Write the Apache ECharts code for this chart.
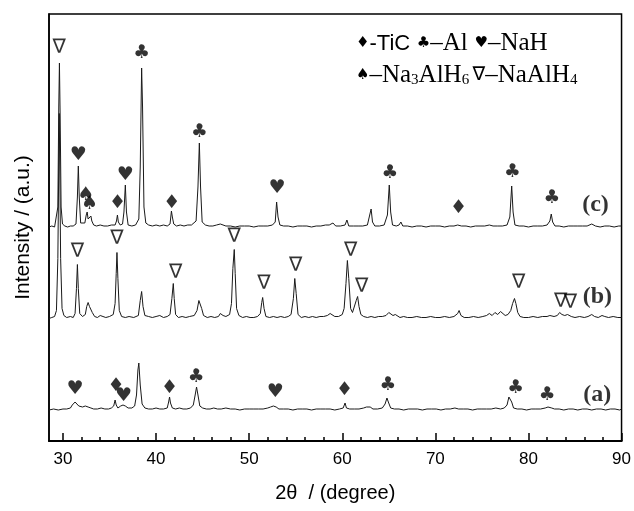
<!DOCTYPE html>
<html>
<head>
<meta charset="utf-8">
<script src="https://cdn.jsdelivr.net/npm/echarts@6/dist/echarts.min.js"></script>
<style>
html,body{margin:0;padding:0;background:#fff}
#chart{width:634px;height:511px}
</style>
</head>
<body>
<div id="chart"></div>
<script>
// XRD patterns: [2theta, intensity above the pattern's own baseline]
var traceA = [[28.5,0],[29.0,1],[29.5,0],[30.0,1],[30.4,1],[30.8,2],[31.0,5],[31.3,8],[31.5,7],[31.7,4],[31.9,5],[32.1,3],[32.4,4],[32.7,3],[33.0,2],[33.3,1],[33.7,1],[34.1,2],[34.5,1],[34.9,1],[35.2,2],[35.45,4],[35.6,10],[35.72,5],[35.9,2],[36.2,4],[36.45,5],[36.7,4],[37.0,2],[37.4,2],[37.7,4],[37.9,15],[38.05,40],[38.15,47],[38.3,25],[38.5,6],[38.8,2],[39.2,1],[39.6,1],[40.0,2],[40.4,1],[40.8,1],[41.2,2],[41.35,8],[41.45,13],[41.55,7],[41.75,2],[42.1,1],[42.5,2],[42.9,1],[43.3,1],[43.7,2],[44.0,5],[44.2,15],[44.35,23],[44.5,15],[44.7,4],[45.0,2],[45.4,1],[45.8,1],[46.2,2],[46.6,1],[47.0,1],[47.5,2],[48.0,1],[48.5,1],[49.0,0],[49.5,1],[50.0,1],[50.5,1],[51.0,1],[51.5,1],[52.0,2],[52.3,3],[52.6,4],[52.9,3],[53.2,1],[53.7,1],[54.2,1],[54.7,0],[55.2,1],[55.7,1],[56.2,1],[56.7,0],[57.2,1],[57.7,1],[58.2,1],[58.7,1],[59.2,0],[59.7,1],[60.1,2],[60.3,7],[60.45,2],[60.8,1],[61.3,1],[61.8,1],[62.3,2],[62.6,3],[63.0,3],[63.3,1],[63.8,1],[64.3,2],[64.6,6],[64.8,12],[64.95,8],[65.2,2],[65.6,1],[66.1,1],[66.6,0],[67.1,1],[67.6,1],[68.1,1],[68.6,0],[69.1,1],[69.6,1],[70.1,1],[70.6,0],[71.1,1],[71.6,1],[72.1,2],[72.3,3],[72.5,1],[73.0,1],[73.5,1],[74.0,0],[74.5,1],[75.0,1],[75.5,1],[76.0,1],[76.5,2],[77.0,1],[77.4,2],[77.7,5],[77.9,13],[78.05,15],[78.2,8],[78.4,2],[78.8,1],[79.3,1],[79.8,0],[80.3,1],[80.8,1],[81.3,1],[81.8,2],[82.1,3],[82.3,4],[82.5,2],[82.8,1],[83.3,1],[83.8,0],[84.3,1],[84.8,1],[85.3,0],[85.8,1],[86.3,1],[86.8,0],[87.3,1],[87.8,1],[88.3,0],[88.8,1],[89.3,1],[89.8,0],[90,1]];

var traceB = [[28.5,0],[28.8,1],[29.1,2],[29.3,8],[29.45,60],[29.6,205],[29.75,60],[29.9,10],[30.1,3],[30.4,1],[30.8,2],[31.1,1],[31.3,5],[31.45,30],[31.55,54],[31.65,30],[31.8,5],[32.1,2],[32.4,4],[32.55,12],[32.7,16],[32.85,12],[33.0,12],[33.15,6],[33.4,2],[33.7,1],[34.0,3],[34.3,2],[34.6,1],[35.0,2],[35.4,4],[35.6,15],[35.72,45],[35.8,66],[35.9,40],[36.05,8],[36.3,2],[36.7,1],[37.1,2],[37.6,1],[38.1,3],[38.3,18],[38.45,27],[38.6,12],[38.8,3],[39.2,2],[39.6,1],[40.0,2],[40.4,3],[40.8,1],[41.2,2],[41.5,4],[41.7,20],[41.85,35],[41.95,20],[42.1,4],[42.4,1],[42.8,2],[43.2,1],[43.6,2],[44.1,3],[44.4,8],[44.6,18],[44.75,20],[44.9,10],[45.1,3],[45.5,1],[45.9,2],[46.3,1],[46.7,2],[46.9,5],[47.05,6],[47.2,3],[47.5,2],[47.9,4],[48.1,15],[48.25,50],[48.4,69],[48.5,45],[48.65,10],[48.9,3],[49.3,1],[49.7,2],[50.1,1],[50.5,1],[50.9,2],[51.2,5],[51.35,16],[51.45,21],[51.6,10],[51.8,2],[52.2,1],[52.6,2],[53.0,1],[53.4,2],[53.8,1],[54.2,2],[54.5,4],[54.75,20],[54.9,40],[55.05,25],[55.25,4],[55.6,1],[56.0,2],[56.4,1],[56.8,2],[57.2,1],[57.6,2],[58.0,2],[58.4,3],[58.7,5],[58.9,4],[59.2,2],[59.6,2],[60.0,4],[60.2,10],[60.4,35],[60.55,58],[60.7,40],[60.9,10],[61.1,6],[61.3,8],[61.5,18],[61.65,22],[61.8,12],[62.0,4],[62.3,2],[62.7,1],[63.1,2],[63.5,1],[63.9,2],[64.3,2],[64.7,3],[65.0,6],[65.2,8],[65.45,3],[65.7,4],[65.9,4],[66.2,1],[66.6,2],[67.0,1],[67.5,1],[68.0,2],[68.5,1],[69.0,1],[69.5,2],[70.0,1],[70.5,1],[71.0,2],[71.5,1],[72.0,2],[72.4,5],[72.55,8],[72.75,3],[73.1,1],[73.6,1],[74.1,2],[74.6,1],[75.1,2],[75.5,3],[75.8,5],[76.1,3],[76.4,6],[76.7,4],[77.0,7],[77.2,5],[77.5,3],[77.8,4],[78.1,8],[78.3,15],[78.5,20],[78.65,15],[78.85,6],[79.1,2],[79.5,1],[80.0,1],[80.5,2],[81.0,1],[81.5,2],[82.0,2],[82.3,3],[82.5,4],[82.75,2],[83.1,3],[83.35,6],[83.6,4],[83.9,3],[84.2,4],[84.4,5],[84.6,2],[85.0,1],[85.5,2],[86.0,1],[86.4,2],[86.8,4],[87.1,2],[87.5,1],[87.9,3],[88.2,2],[88.6,1],[89.1,2],[89.6,1],[90,1]];

var traceC = [[28.5,0],[28.8,1],[29.1,0],[29.3,1],[29.45,20],[29.55,120],[29.62,164],[29.7,110],[29.8,20],[29.95,3],[30.2,1],[30.5,0],[30.8,1],[31.1,1],[31.4,3],[31.55,30],[31.65,61],[31.75,30],[31.9,4],[32.1,2],[32.35,4],[32.5,12],[32.6,15],[32.7,8],[32.85,6],[33.0,11],[33.1,6],[33.3,2],[33.6,1],[34.0,2],[34.4,1],[34.8,1],[35.2,2],[35.6,2],[35.75,6],[35.85,12],[35.95,5],[36.15,2],[36.4,3],[36.55,15],[36.7,42],[36.82,15],[37.0,2],[37.4,1],[37.8,2],[38.15,8],[38.3,60],[38.45,159],[38.55,120],[38.7,20],[38.9,4],[39.2,2],[39.6,1],[40.0,2],[40.4,1],[40.8,2],[41.2,1],[41.5,3],[41.65,16],[41.75,10],[41.9,3],[42.2,1],[42.6,2],[43.0,1],[43.4,2],[43.8,2],[44.3,6],[44.5,40],[44.65,84],[44.78,40],[44.95,5],[45.3,2],[45.7,1],[46.1,1],[46.5,2],[46.9,3],[47.1,2],[47.5,1],[48.0,1],[48.5,0],[49.0,1],[49.5,1],[50.0,1],[50.5,0],[51.0,1],[51.5,1],[52.0,1],[52.5,2],[52.8,5],[52.95,25],[53.1,10],[53.3,2],[53.7,1],[54.2,1],[54.7,0],[55.2,1],[55.7,1],[56.2,1],[56.7,0],[57.2,1],[57.7,1],[58.2,2],[58.6,2],[59.0,4],[59.3,1],[59.8,1],[60.3,2],[60.5,7],[60.7,1],[61.2,1],[61.7,1],[62.2,1],[62.7,2],[62.95,12],[63.1,18],[63.25,5],[63.5,1],[64.0,1],[64.5,2],[64.85,12],[65.05,42],[65.2,15],[65.4,2],[65.8,1],[66.1,2],[66.3,5],[66.5,1],[67.0,1],[67.5,0],[68.0,1],[68.5,1],[69.0,0],[69.5,1],[70.0,1],[70.5,1],[71.0,0],[71.5,1],[72.0,1],[72.4,2],[72.55,4],[72.8,1],[73.3,1],[73.8,0],[74.3,1],[74.8,1],[75.3,1],[75.8,2],[76.2,1],[76.7,1],[77.2,1],[77.7,2],[78.0,10],[78.2,41],[78.35,15],[78.55,2],[79.0,1],[79.5,1],[80.0,0],[80.5,1],[81.0,1],[81.5,1],[82.0,2],[82.3,6],[82.45,13],[82.6,5],[82.85,1],[83.3,1],[83.8,0],[84.3,1],[84.8,1],[85.3,1],[85.8,1],[86.3,1],[86.8,3],[86.95,4],[87.2,1],[87.7,0],[88.2,1],[88.7,1],[89.2,0],[89.7,1],[90,1]];

// stacking offsets of (a), (b), (c)
var offsets = [31, 122.5, 214];

var majorTicks = [30, 40, 50, 60, 70, 80, 90];
var minorTicks = [32, 34, 36, 38, 42, 44, 46, 48, 52, 54, 56, 58, 62, 64, 66, 68, 72, 74, 76, 78, 82, 84, 86, 88];

// phase marks: [2theta, height, symbol]
var marksA = [[31.3,52,'♥'],[35.7,55,'♦'],[36.5,45,'♥'],[41.45,53,'♦'],[44.3,64,'♣'],[52.8,49,'♥'],[60.25,51,'♦'],[64.9,56,'♣'],[78.6,53,'♣'],[82.0,46,'♣']];
var marksB = [[31.55,189,'∇'],[35.8,202,'∇'],[42.1,168,'∇'],[48.4,204,'∇'],[51.6,157,'∇'],[55.0,175,'∇'],[60.9,190,'∇'],[62.1,154,'∇'],[78.95,158,'∇'],[83.45,139,'∇'],[84.5,138,'∇']];
var marksC = [[29.6,393,'∇'],[31.65,286,'♥'],[32.45,246,'♠'],[32.85,237,'♠'],[35.85,238,'♦'],[36.7,266,'♥'],[38.45,388,'♣'],[41.7,238,'♦'],[44.65,309,'♣'],[53.0,253,'♥'],[65.1,268,'♣'],[72.5,233,'♦'],[78.25,269,'♣'],[82.5,243,'♣']];

var sampleNames = [['(a)', 87.4, 46], ['(b)', 87.4, 144], ['(c)', 87.2, 236]];

var chart = echarts.init(document.getElementById('chart'));

function shift(arr, off) {
    return arr.map(function (p) { return [p[0], p[1] + off]; });
}
function markItems(arr) {
    return arr.map(function (m) { return { name: m[2], value: [m[0], m[1]] }; });
}
function nameItems(arr) {
    return arr.map(function (m) { return { name: m[0], value: [m[1], m[2]] }; });
}

var lineStyle = { color: '#1a1a1a', width: 1 };
function traceSeries(data, off) {
    return {
        type: 'line',
        data: shift(data, off),
        showSymbol: false,
        symbol: 'none',
        lineStyle: lineStyle,
        silent: true
    };
}
function markSeries(arr) {
    return {
        type: 'scatter',
        data: markItems(arr),
        symbolSize: 0,
        silent: true,
        label: {
            show: true,
            position: 'inside',
            // the open triangle is drawn a bit larger than the card suits
            formatter: function (p) {
                return p.name === '∇' ? '{v|∇}' : '{g|' + p.name + '}';
            },
            rich: {
                g: { fontFamily: 'DejaVu Sans', fontSize: 19, color: '#000' },
                v: { fontFamily: 'DejaVu Sans', fontSize: 20, color: '#000' }
            }
        }
    };
}

var option = {
    animation: false,
    backgroundColor: '#fff',
    grid: {
        left: 49, right: 12, top: 14, bottom: 70,
        show: true, borderColor: '#000', borderWidth: 1.5
    },
    xAxis: [{
        type: 'value',
        min: 28.5, max: 90,
        position: 'bottom',
        name: '2θ  / (degree)',
        nameLocation: 'middle',
        nameGap: 42,
        nameTextStyle: { fontFamily: 'Liberation Sans', fontSize: 20, color: '#000' },
        axisLine: { lineStyle: { color: '#000', width: 2 } },
        axisTick: { inside: true, length: 8, customValues: majorTicks, lineStyle: { color: '#000', width: 1.5 } },
        axisLabel: { customValues: majorTicks, fontFamily: 'Liberation Sans', fontSize: 17, color: '#000', margin: 10 },
        splitLine: { show: false }
    }, {
        type: 'value',
        min: 28.5, max: 90,
        position: 'bottom',
        axisLine: { show: false },
        axisTick: { inside: true, length: 4, customValues: minorTicks, lineStyle: { color: '#000', width: 1.5 } },
        axisLabel: { show: false },
        splitLine: { show: false }
    }],
    yAxis: {
        type: 'value',
        min: 0, max: 427,
        name: 'Intensity / (a.u.)',
        nameLocation: 'middle',
        nameGap: 15,
        nameTextStyle: { fontFamily: 'Liberation Sans', fontSize: 21, color: '#000' },
        axisLine: { show: true, lineStyle: { color: '#000', width: 1.5 } },
        axisTick: { show: false },
        axisLabel: { show: false },
        splitLine: { show: false }
    },
    graphic: [{
        type: 'text',
        left: 356, top: 31,
        style: {
            text: '{s|♦}{a|-TiC}  {s|♣}{t|–Al}  {s|♥}{t|–NaH}',
            rich: {
                s: { fontFamily: 'DejaVu Sans', fontSize: 15, fill: '#000' },
                a: { fontFamily: 'Liberation Sans', fontSize: 22, fill: '#000' },
                t: { fontFamily: 'Liberation Serif', fontSize: 25, fill: '#000' }
            }
        }
    }, {
        type: 'text',
        left: 356, top: 63,
        style: {
            text: '{s|♠}{t|–Na}{sub|3}{t|AlH}{sub|6} {v|∇}{t|–NaAlH}{sub|4}',
            rich: {
                s: { fontFamily: 'DejaVu Sans', fontSize: 15, fill: '#000' },
                v: { fontFamily: 'DejaVu Sans', fontSize: 19, fill: '#000' },
                t: { fontFamily: 'Liberation Serif', fontSize: 25, fill: '#000' },
                sub: { fontFamily: 'Liberation Serif', fontSize: 15, fill: '#000', verticalAlign: 'bottom' }
            }
        }
    }],
    series: [
        traceSeries(traceA, offsets[0]),
        traceSeries(traceB, offsets[1]),
        traceSeries(traceC, offsets[2]),
        markSeries(marksA),
        markSeries(marksB),
        markSeries(marksC),
        {
            type: 'scatter',
            data: nameItems(sampleNames),
            symbolSize: 0,
            silent: true,
            label: {
                show: true,
                position: 'inside',
                formatter: '{b}',
                color: '#000',
                fontFamily: 'Liberation Serif',
                fontWeight: 'bold',
                fontSize: 24
            }
        }
    ]
};
chart.setOption(option);
</script>
</body>
</html>
